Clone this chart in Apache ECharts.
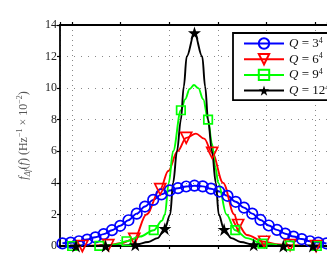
<!DOCTYPE html>
<html>
<head>
<meta charset="utf-8">
<script src="https://cdn.jsdelivr.net/npm/echarts@6/dist/echarts.min.js"></script>
<style>
html,body{margin:0;padding:0;background:#fff;}
#chart{width:327px;height:258px;}
</style>
</head>
<body>
<div id="chart"></div>
<script>
// ---- data (x in axis units; vertical grid ticks at integers) ----
const qBases = ['3', '6', '9', '12'];
const yTicks = [0, 2, 4, 6, 8, 10, 12, 14];

// Q = 3^4 (blue, circles on every point)
const blueX = [-0.2, -0.03, 0.14, 0.31, 0.48, 0.65, 0.82, 0.99, 1.16, 1.33, 1.5, 1.67, 1.84, 2.01, 2.18, 2.35, 2.52,
  2.69, 2.86, 3.03, 3.2, 3.37, 3.54, 3.71, 3.88, 4.05, 4.22, 4.39, 4.56, 4.73, 4.9, 5.07, 5.24];
const blueY = [0.17, 0.21, 0.3, 0.41, 0.55, 0.75, 1.0, 1.28, 1.63, 2.05, 2.5, 2.92, 3.27, 3.52, 3.66, 3.77, 3.82,
  3.78, 3.63, 3.45, 3.18, 2.8, 2.43, 2.05, 1.65, 1.3, 1.02, 0.78, 0.6, 0.44, 0.3, 0.22, 0.16];
const blueMark = blueX.map(() => 1);

// Q = 6^4 (red, down triangles)
const redX = [-0.25, 0.21, 0.745, 1.0, 1.28, 1.53, 1.815, 1.98, 2.17, 2.35, 2.55, 2.72, 2.885, 3.11, 3.34, 3.42, 3.6, 3.955, 4.2, 4.49, 5.025, 5.25];
const redY = [0, 0.0, 0.06, 0.17, 0.45, 2.0, 3.6, 4.75, 6.0, 6.85, 7.12, 6.8, 5.9, 4.0, 2.0, 1.33, 0.7, 0.27, 0.12, 0.05, 0.0, 0];
const redMark = [0, 1, 1, 0, 1, 0, 1, 0, 0, 1, 0, 0, 1, 0, 0, 1, 0, 1, 0, 1, 1, 0];

// Q = 9^4 (green, squares)
const greenX = [-0.25, 0.0, 0.56, 0.9, 1.12, 1.4, 1.68, 1.85, 1.91, 1.99, 2.08, 2.24, 2.33, 2.42, 2.51, 2.6, 2.7, 2.8, 2.88, 2.95, 3.01, 3.18, 3.36, 3.6, 3.92, 4.48, 5.04, 5.25];
const greenY = [0, 0, 0.01, 0.1, 0.3, 0.6, 1.0, 1.6, 2.0, 4.0, 6.0, 8.6, 9.3, 9.95, 10.2, 10.0, 9.3, 8.0, 6.5, 5.0, 4.0, 2.0, 1.0, 0.5, 0.15, 0.02, 0, 0];
const greenMark = [0, 1, 1, 0, 1, 0, 1, 0, 0, 0, 0, 1, 0, 0, 0, 0, 0, 1, 0, 0, 0, 0, 1, 0, 1, 1, 1, 0];

// Q = 12^4 (black, stars)
const blackX = [-0.25, 0.08, 0.69, 1.0, 1.3, 1.57, 1.76, 1.91, 2.02, 2.08, 2.16, 2.24, 2.3, 2.36, 2.52, 2.68, 2.74, 2.8, 2.88, 2.96, 3.02, 3.13, 3.28, 3.47, 3.74, 4.05, 4.35, 4.96, 5.25];
const blackY = [0, 0, 0.0, 0.02, 0.08, 0.25, 0.5, 1.1, 2.0, 4.0, 6.0, 8.0, 10.1, 12.0, 13.5, 12.0, 10.1, 8.0, 6.0, 4.0, 2.0, 1.05, 0.5, 0.25, 0.08, 0.02, 0, 0, 0];
const blackMark = [0, 1, 1, 0, 1, 0, 0, 1, 0, 0, 0, 0, 0, 0, 1, 0, 0, 0, 0, 0, 0, 1, 0, 0, 1, 0, 1, 1, 0];

const STAR = 'path://M50,0 L61.2,34.5 L97.6,34.5 L68.2,55.9 L79.4,90.5 L50,69.1 L20.6,90.5 L31.8,55.9 L2.4,34.5 L38.8,34.5 Z';
const SERIF = '"Liberation Serif", "DejaVu Serif", serif';

function pts(xs, ys, marks) {
  return xs.map((x, i) => marks[i] ? [x, ys[i]] : { value: [x, ys[i]], symbol: 'none' });
}
function mk(name, xs, ys, marks, color, symbol, size, opts) {
  return Object.assign({
    name: name,
    type: 'line',
    data: pts(xs, ys, marks),
    smooth: 0.35,
    smoothMonotone: 'x',
    symbol: symbol,
    symbolSize: size,
    showSymbol: true,
    showAllSymbol: true,
    lineStyle: { color: color, width: 1.9 },
    itemStyle: { color: 'rgba(255,255,255,0)', borderColor: color, borderWidth: 1.7 },
    emphasis: { disabled: true },
    z: 3
  }, opts || {});
}

const chart = echarts.init(document.getElementById('chart'), null, { renderer: 'canvas' });
chart.setOption({
  animation: false,
  backgroundColor: '#fff',
  grid: { left: 60, top: 25, width: 288.75, height: 221, containLabel: false },
  xAxis: [{
    type: 'value', min: -0.25, max: 5.25, splitNumber: 5,
    axisLine: { show: true, onZero: false, lineStyle: { color: '#000', width: 1.8 } },
    axisTick: { show: true, inside: false, length: 3, lineStyle: { color: '#000', width: 1.2 } },
    axisLabel: { show: false },
    splitLine: { show: true, lineStyle: { color: '#888', width: 1, type: [1, 4] } }
  }, {
    type: 'value', min: -0.25, max: 5.25, splitNumber: 5, position: 'top',
    axisLine: { show: true, onZero: false, lineStyle: { color: '#000', width: 1.8 } },
    axisTick: { show: true, inside: false, length: 3, lineStyle: { color: '#000', width: 1.2 } },
    axisLabel: { show: false },
    splitLine: { show: false }
  }],
  yAxis: {
    type: 'value', min: yTicks[0], max: yTicks[yTicks.length - 1], interval: 2,
    axisLine: { show: true, onZero: false, lineStyle: { color: '#000', width: 1.8 } },
    axisTick: { show: true, inside: false, length: 3, lineStyle: { color: '#000', width: 1.2 } },
    axisLabel: { margin: 3, color: '#222', fontFamily: SERIF, fontSize: 12 },
    splitLine: { show: true, lineStyle: { color: '#888', width: 1, type: [1, 6] } },
    name: '{i|f}{sub|Δf}({i|f}) (Hz{sup|−1} × 10{sup|−2})',
    nameLocation: 'middle',
    nameGap: 28,
    nameTextStyle: {
      color: '#555', fontFamily: SERIF, fontSize: 12, lineHeight: 16,
      rich: {
        i: { fontStyle: 'italic', fontFamily: SERIF, fontSize: 12, color: '#555', lineHeight: 16 },
        sub: { fontStyle: 'italic', fontFamily: SERIF, fontSize: 8, color: '#555', verticalAlign: 'bottom', lineHeight: 10 },
        sup: { fontFamily: SERIF, fontSize: 8, color: '#555', verticalAlign: 'top', lineHeight: 10 }
      }
    }
  },
  legend: {
    show: true,
    orient: 'vertical',
    left: 233, top: 33,
    padding: [3.5, 10, 2.5, 10],
    itemWidth: 40, itemHeight: 13, itemGap: 1.7,
    backgroundColor: '#fff',
    borderColor: '#000', borderWidth: 1.8, borderRadius: 0,
    data: qBases,
    formatter: function (n) { return '{q|Q} = ' + n + '{s|4}'; },
    textStyle: {
      color: '#111', fontFamily: SERIF, fontSize: 13, lineHeight: 14,
      rich: {
        q: { fontStyle: 'italic', fontFamily: SERIF, fontSize: 13, color: '#111', lineHeight: 14 },
        s: { fontFamily: SERIF, fontSize: 8, color: '#111', verticalAlign: 'top', lineHeight: 9 }
      }
    }
  },
  series: [
    mk(qBases[0], blueX, blueY, blueMark, '#0000ff', 'circle', 10.5),
    mk(qBases[1], redX, redY, redMark, '#ff0000', 'triangle', 11, { symbolRotate: 180 }),
    mk(qBases[2], greenX, greenY, greenMark, '#00ff00', 'rect', 8.5),
    mk(qBases[3], blackX, blackY, blackMark, '#000000', STAR, 13,
      { itemStyle: { color: '#000', borderColor: '#000', borderWidth: 0 } })
  ]
});
</script>
</body>
</html>
